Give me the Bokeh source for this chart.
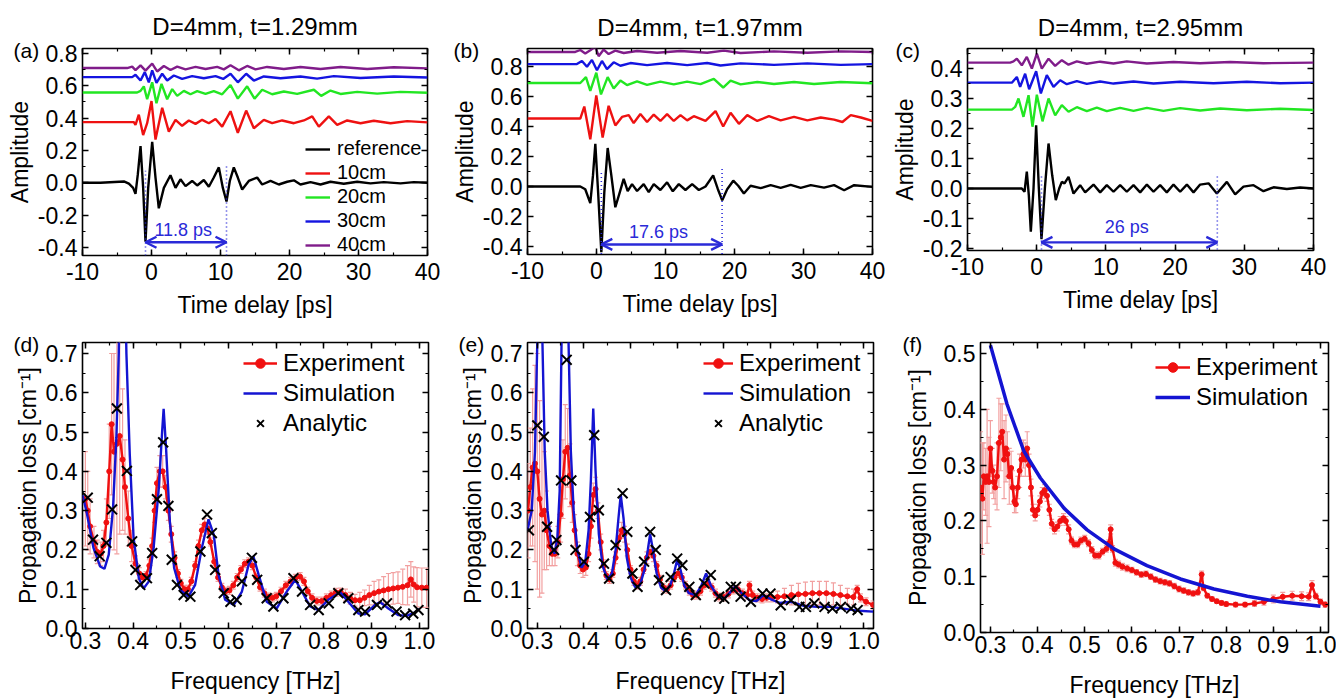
from bokeh.plotting import figure
from bokeh.layouts import row, column
from bokeh.models import (Range1d, SingleIntervalTicker, LinearAxis, NumeralTickFormatter, Title,
                          Legend, LegendItem, Label, Arrow, OpenHead, ColumnDataSource)
from bokeh.embed import file_html
from bokeh.resources import INLINE

FONT = "Liberation Sans"
COL_REF = "#000000"
COL_10 = "#ee1111"
COL_20 = "#22e622"
COL_30 = "#1414e0"
COL_40 = "#801c8a"
COL_ANN = "#2a2ad8"
COL_EXP = "#f01010"
COL_ERR = "#f2a0a0"
COL_SIM = "#1414d2"

# ---------------- panel (a): D=4mm, t=1.29mm ----------------
A_REF = [(-10, 0), (-7.4, 0.0), (-4.0, 0.008), (-3.28, -0.006), (-2.66, -0.032), (-2.32, -0.069),
         (-1.98, 0.053), (-1.59, 0.227), (-1.21, -0.032), (-0.87, -0.364), (-0.48, -0.032),
         (0.1, 0.253), (0.58, 0.032), (1.06, -0.158), (1.79, -0.032), (2.75, 0.046), (3.48, -0.032),
         (4.2, 0.021), (4.93, -0.021), (5.89, 0.011), (6.62, -0.017), (7.58, 0.017), (8.31, -0.025),
         (9.03, 0.032), (9.76, 0.095), (10.34, -0.032), (10.87, -0.116), (11.35, 0.011), (11.93, 0.095),
         (12.51, 0.032), (13.14, -0.042), (14.1, 0.011), (15.31, 0.032), (16.04, -0.011), (17.25, 0.011),
         (18.45, -0.011), (19.66, 0.006), (20.63, 0.015), (21.59, -0.011), (23.04, 0.004), (24.49, -0.011),
         (25.94, 0.006), (27.87, -0.006), (29.81, 0.006), (31.74, -0.004), (33.67, 0.004), (36.09, -0.004),
         (38.02, 0.004), (40, 0.0)]
A_10 = [(-10, 0.375), (-2.56, 0.375), (-2.32, 0.358), (-1.84, 0.421), (-1.21, 0.295), (-0.63, 0.368),
        (0.0, 0.505), (0.58, 0.267), (1.55, 0.463), (2.51, 0.316), (3.48, 0.389), (4.44, 0.352),
        (5.41, 0.385), (6.38, 0.364), (7.34, 0.389), (8.31, 0.368), (9.28, 0.394), (10.24, 0.347),
        (11.45, 0.442), (12.51, 0.309), (13.72, 0.446), (14.83, 0.337), (16.28, 0.389), (17.49, 0.368),
        (18.94, 0.385), (20.63, 0.368), (22.08, 0.385), (23.29, 0.41), (24.25, 0.347), (25.7, 0.41),
        (26.91, 0.358), (28.36, 0.385), (30.29, 0.368), (32.22, 0.383), (34.64, 0.368), (37.05, 0.381),
        (40, 0.373)]
A_20 = [(-10, 0.558), (-2.08, 0.558), (-1.59, 0.568), (-1.11, 0.596), (-0.63, 0.516), (0.1, 0.621),
        (0.72, 0.491), (1.45, 0.611), (2.27, 0.516), (3.0, 0.579), (3.72, 0.537), (4.69, 0.568),
        (5.65, 0.547), (6.62, 0.566), (7.83, 0.549), (9.03, 0.566), (10.24, 0.547), (11.45, 0.604),
        (12.51, 0.52), (13.86, 0.596), (14.93, 0.52), (16.04, 0.575), (17.49, 0.547), (19.18, 0.564),
        (21.11, 0.549), (23.53, 0.575), (24.59, 0.537), (25.94, 0.57), (27.39, 0.549), (29.81, 0.562),
        (32.71, 0.551), (36.09, 0.562), (40, 0.556)]
A_30 = [(-10, 0.653), (-2.8, 0.653), (-2.32, 0.667), (-1.59, 0.632), (-0.97, 0.684), (-0.39, 0.621),
        (0.1, 0.695), (0.72, 0.617), (1.55, 0.674), (2.27, 0.632), (3.24, 0.663), (4.44, 0.642),
        (5.89, 0.659), (7.58, 0.646), (9.28, 0.659), (10.39, 0.642), (11.45, 0.674), (12.51, 0.621),
        (13.72, 0.674), (14.83, 0.632), (16.28, 0.657), (18.7, 0.646), (21.59, 0.657), (24.0, 0.644),
        (26.43, 0.659), (30.29, 0.648), (35.12, 0.657), (40, 0.651)]
A_40 = [(-10, 0.709), (-3.53, 0.709), (-2.8, 0.718), (-2.32, 0.696), (-1.59, 0.726), (-0.87, 0.693),
        (0.1, 0.737), (0.82, 0.688), (1.79, 0.722), (2.75, 0.697), (3.72, 0.718), (4.93, 0.701),
        (6.38, 0.716), (7.83, 0.703), (9.52, 0.716), (10.48, 0.701), (11.45, 0.726), (12.66, 0.695),
        (13.86, 0.722), (15.07, 0.701), (16.76, 0.716), (19.18, 0.703), (21.59, 0.716), (24.49, 0.703),
        (27.39, 0.716), (31.26, 0.703), (35.12, 0.714), (40, 0.707)]
A_DELAY = {"t0": -0.87, "t1": 10.87, "top0": 0.074, "top1": 0.105, "arrow_y": -0.368,
           "text": "11.8 ps", "text_t": 4.6, "text_y": -0.293}

# ---------------- panel (b): D=4mm, t=1.97mm ----------------
B_REF = [(-10, 0), (-2.35, 0), (-1.63, -0.018), (-0.9, -0.11), (-0.51, 0.074), (-0.17, 0.285),
         (0.21, -0.018), (0.7, -0.437), (1.13, -0.041), (1.62, 0.257), (2.15, 0.074), (2.73, -0.138),
         (3.36, -0.041), (3.94, 0.051), (4.52, -0.03), (5.15, 0.016), (5.88, -0.03), (6.84, 0.016),
         (7.57, -0.037), (8.3, 0.016), (9.26, -0.023), (10.23, 0.028), (11.06, -0.032), (11.93, 0.016),
         (12.89, -0.023), (13.86, 0.016), (14.83, -0.023), (15.8, 0.0), (16.91, 0.074), (17.59, -0.018),
         (18.22, -0.092), (18.94, -0.018), (19.82, 0.039), (20.54, 0.005), (21.36, -0.046), (22.33, 0.005),
         (23.79, -0.011), (25.24, 0.009), (26.69, -0.009), (28.14, 0.011), (29.59, -0.009), (31.05, 0.009),
         (32.98, -0.007), (34.43, 0.009), (35.89, -0.025), (37.34, 0.009), (40, -0.002)]
B_10 = [(-10, 0.453), (-2.35, 0.453), (-1.77, 0.533), (-0.9, 0.315), (-0.03, 0.607), (0.89, 0.326),
        (1.76, 0.538), (2.73, 0.407), (3.7, 0.464), (4.67, 0.476), (5.39, 0.423), (6.36, 0.483),
        (7.33, 0.43), (8.3, 0.48), (9.26, 0.437), (10.23, 0.483), (11.2, 0.437), (12.17, 0.476),
        (13.14, 0.441), (14.1, 0.469), (15.8, 0.437), (17.25, 0.503), (18.36, 0.4), (19.43, 0.492),
        (20.64, 0.418), (21.85, 0.476), (23.3, 0.437), (24.99, 0.469), (26.69, 0.441), (28.63, 0.464),
        (30.56, 0.441), (32.5, 0.46), (34.43, 0.446), (35.64, 0.43), (36.85, 0.476), (38.31, 0.46),
        (40, 0.437)]
B_20 = [(-10, 0.69), (-2.35, 0.69), (-1.53, 0.729), (-0.9, 0.637), (-0.03, 0.759), (0.65, 0.614),
        (1.62, 0.729), (2.49, 0.653), (3.46, 0.706), (4.42, 0.676), (5.88, 0.701), (7.33, 0.678),
        (9.26, 0.699), (11.2, 0.681), (13.14, 0.699), (15.07, 0.683), (17.0, 0.717), (18.36, 0.66),
        (19.43, 0.706), (20.88, 0.681), (23.3, 0.697), (25.72, 0.683), (28.63, 0.697), (31.53, 0.683),
        (35.4, 0.697), (40, 0.688)]
B_30 = [(-10, 0.816), (-2.84, 0.816), (-2.11, 0.837), (-1.38, 0.798), (-0.66, 0.844), (0.07, 0.775),
        (0.79, 0.837), (1.52, 0.782), (2.49, 0.828), (3.46, 0.805), (4.91, 0.823), (7.33, 0.809),
        (10.23, 0.823), (13.14, 0.809), (16.04, 0.823), (17.98, 0.807), (20.88, 0.821), (25.72, 0.811),
        (30.56, 0.821), (35.4, 0.811), (40, 0.816)]
B_40 = [(-10, 0.897), (-3.08, 0.897), (-2.35, 0.91), (-1.63, 0.887), (-0.9, 0.908), (-0.17, 0.933),
        (0.31, 0.869), (1.04, 0.913), (1.76, 0.883), (2.73, 0.906), (3.94, 0.89), (5.88, 0.903),
        (8.78, 0.892), (12.17, 0.903), (16.04, 0.892), (18.46, 0.906), (20.88, 0.89), (25.72, 0.901),
        (30.56, 0.892), (35.4, 0.901), (40, 0.897)]
B_DELAY = {"t0": 0.7, "t1": 18.2, "top0": 0.108, "top1": 0.12, "arrow_y": -0.386,
           "text": "17.6 ps", "text_t": 9.0, "text_y": -0.306}

# ---------------- panel (c): D=4mm, t=2.95mm ----------------
C_REF = [(-10, 0), (-2.15, 0), (-1.76, -0.011), (-1.43, 0.056), (-1.14, -0.022), (-0.85, -0.144),
         (-0.46, 0.0), (-0.08, 0.211), (0.31, 0.0), (0.69, -0.169), (1.18, 0.0), (1.71, 0.15),
         (2.24, 0.044), (2.76, -0.039), (3.25, 0.0), (3.63, 0.022), (4.02, 0.017), (4.6, 0.039),
         (5.32, -0.017), (6.28, 0.011), (7.0, -0.013), (8.21, 0.013), (9.17, -0.013), (10.13, 0.011),
         (11.1, -0.011), (12.06, 0.011), (13.02, -0.011), (13.99, 0.011), (14.95, -0.013), (15.92, 0.013),
         (16.88, -0.011), (17.84, 0.011), (18.8, -0.013), (19.77, 0.013), (20.73, -0.011), (21.7, 0.013),
         (22.66, -0.013), (23.62, 0.013), (24.83, 0.017), (26.03, -0.017), (27.48, 0.022), (28.68, -0.02),
         (29.88, 0.006), (31.33, 0.011), (32.77, -0.009), (34.22, 0.004), (36.15, -0.002), (38.07, 0.003),
         (40, 0.0)]
C_20 = [(-10, 0.263), (-3.59, 0.263), (-3.11, 0.272), (-2.63, 0.3), (-1.91, 0.239), (-1.18, 0.311),
        (-0.61, 0.206), (0.02, 0.313), (0.84, 0.224), (1.71, 0.3), (2.67, 0.244), (3.63, 0.278),
        (4.6, 0.256), (5.8, 0.271), (7.24, 0.258), (8.69, 0.27), (10.13, 0.258), (12.06, 0.269),
        (13.99, 0.259), (15.92, 0.269), (18.32, 0.259), (20.73, 0.268), (23.62, 0.26), (26.51, 0.267),
        (30.37, 0.261), (35.18, 0.266), (40, 0.262)]
C_30 = [(-10, 0.353), (-3.59, 0.353), (-2.87, 0.372), (-2.39, 0.339), (-1.67, 0.383), (-1.09, 0.331),
        (-0.08, 0.391), (0.6, 0.317), (1.46, 0.378), (2.43, 0.339), (3.39, 0.361), (4.35, 0.348),
        (5.8, 0.358), (7.24, 0.349), (9.17, 0.357), (11.1, 0.35), (13.99, 0.357), (16.88, 0.35),
        (20.73, 0.356), (25.55, 0.351), (30.37, 0.356), (35.18, 0.351), (40, 0.353)]
C_40 = [(-10, 0.42), (-3.83, 0.42), (-3.35, 0.424), (-2.87, 0.433), (-2.15, 0.411), (-1.43, 0.439),
        (-0.7, 0.4), (0.02, 0.45), (0.74, 0.4), (1.71, 0.433), (2.67, 0.409), (3.63, 0.428),
        (4.6, 0.413), (5.8, 0.424), (7.24, 0.416), (9.17, 0.423), (11.1, 0.417), (13.02, 0.424),
        (15.92, 0.417), (19.77, 0.422), (23.62, 0.418), (27.96, 0.422), (32.77, 0.418), (40, 0.42)]
C_DELAY = {"t0": 0.69, "t1": 26.1, "top0": 0.044, "top1": 0.044, "arrow_y": -0.18,
           "text": "26 ps", "text_t": 13.0, "text_y": -0.13}

# ---------------- panel (d) ----------------
D_EXP = [(0.3, 0.33, 0.12), (0.305, 0.30, 0.10), (0.31, 0.26, 0.07), (0.318, 0.22, 0.04), (0.325, 0.195, 0.03),
         (0.332, 0.19, 0.03), (0.338, 0.21, 0.04), (0.344, 0.27, 0.06), (0.35, 0.40, 0.12), (0.355, 0.52, 0.18),
         (0.36, 0.45, 0.25), (0.366, 0.47, 0.28), (0.372, 0.49, 0.25), (0.378, 0.43, 0.18), (0.383, 0.36, 0.12),
         (0.39, 0.28, 0.07), (0.397, 0.21, 0.04), (0.405, 0.165, 0.02), (0.413, 0.14, 0.015), (0.42, 0.13, 0.01),
         (0.427, 0.135, 0.01), (0.434, 0.16, 0.015), (0.44, 0.21, 0.02), (0.445, 0.30, 0.03), (0.45, 0.37, 0.04),
         (0.456, 0.40, 0.04), (0.462, 0.40, 0.04), (0.468, 0.36, 0.03), (0.474, 0.30, 0.025), (0.48, 0.24, 0.02),
         (0.487, 0.18, 0.015), (0.494, 0.14, 0.01), (0.5, 0.115, 0.01), (0.508, 0.1, 0.01), (0.515, 0.1, 0.01),
         (0.522, 0.12, 0.01), (0.53, 0.16, 0.01), (0.537, 0.21, 0.015), (0.544, 0.25, 0.015), (0.55, 0.265, 0.015),
         (0.556, 0.255, 0.015), (0.562, 0.22, 0.01), (0.57, 0.17, 0.01), (0.578, 0.13, 0.01), (0.586, 0.105, 0.01),
         (0.594, 0.095, 0.01), (0.602, 0.097, 0.01), (0.61, 0.11, 0.01), (0.618, 0.13, 0.01), (0.626, 0.15, 0.01),
         (0.634, 0.165, 0.01), (0.642, 0.17, 0.01), (0.65, 0.16, 0.01), (0.658, 0.13, 0.01), (0.666, 0.105, 0.01),
         (0.675, 0.09, 0.01), (0.684, 0.08, 0.01), (0.692, 0.078, 0.01), (0.70, 0.082, 0.01), (0.71, 0.095, 0.01),
         (0.72, 0.11, 0.01), (0.73, 0.12, 0.01), (0.74, 0.128, 0.01), (0.75, 0.132, 0.01), (0.758, 0.12, 0.01),
         (0.766, 0.095, 0.01), (0.775, 0.078, 0.01), (0.785, 0.07, 0.01), (0.795, 0.07, 0.01), (0.805, 0.078, 0.01),
         (0.815, 0.085, 0.01), (0.825, 0.092, 0.01), (0.835, 0.093, 0.01), (0.845, 0.085, 0.015), (0.855, 0.077, 0.015),
         (0.865, 0.072, 0.015), (0.875, 0.072, 0.02), (0.885, 0.078, 0.02), (0.895, 0.085, 0.025), (0.905, 0.09, 0.03),
         (0.915, 0.094, 0.03), (0.925, 0.097, 0.035), (0.935, 0.1, 0.04), (0.945, 0.102, 0.04), (0.955, 0.104, 0.04),
         (0.965, 0.106, 0.045), (0.975, 0.11, 0.05), (0.982, 0.125, 0.045), (0.988, 0.112, 0.045), (0.995, 0.105, 0.05),
         (1.005, 0.104, 0.05), (1.015, 0.104, 0.05)]
D_SIM = [(0.294, 0.34), (0.302, 0.30), (0.317, 0.205), (0.331, 0.158), (0.34, 0.152), (0.349, 0.188), (0.358, 0.307),
         (0.365, 0.487), (0.37, 0.70), (0.377, 1.3), (0.386, 0.70), (0.393, 0.444), (0.401, 0.231), (0.412, 0.128),
         (0.422, 0.102), (0.433, 0.12), (0.443, 0.205), (0.454, 0.359), (0.461, 0.504), (0.464, 0.559), (0.469, 0.461),
         (0.477, 0.273), (0.486, 0.154), (0.499, 0.098), (0.516, 0.081), (0.53, 0.111), (0.544, 0.205), (0.558, 0.278),
         (0.569, 0.239), (0.579, 0.137), (0.593, 0.073), (0.611, 0.06), (0.628, 0.094), (0.642, 0.162), (0.652, 0.184),
         (0.663, 0.137), (0.68, 0.068), (0.701, 0.051), (0.722, 0.094), (0.74, 0.124), (0.754, 0.094), (0.771, 0.056),
         (0.788, 0.047), (0.809, 0.073), (0.834, 0.092), (0.851, 0.068), (0.872, 0.038), (0.886, 0.036), (0.907, 0.06),
         (0.918, 0.067), (0.935, 0.051), (0.956, 0.034), (0.973, 0.032), (0.991, 0.041), (1.0, 0.05)]
D_ANA = [(0.305, 0.333), (0.316, 0.226), (0.33, 0.184), (0.344, 0.218), (0.356, 0.303), (0.366, 0.56), (0.387, 0.401),
         (0.398, 0.222), (0.405, 0.149), (0.415, 0.111), (0.429, 0.128), (0.44, 0.192), (0.45, 0.329), (0.463, 0.474),
         (0.474, 0.312), (0.481, 0.175), (0.492, 0.111), (0.506, 0.085), (0.52, 0.081), (0.541, 0.196), (0.555, 0.29),
         (0.565, 0.243), (0.572, 0.149), (0.59, 0.09), (0.604, 0.068), (0.617, 0.073), (0.628, 0.12), (0.649, 0.18),
         (0.66, 0.124), (0.68, 0.077), (0.694, 0.056), (0.715, 0.077), (0.736, 0.128), (0.754, 0.094), (0.771, 0.06),
         (0.789, 0.047), (0.81, 0.064), (0.83, 0.09), (0.851, 0.077), (0.872, 0.047), (0.886, 0.043), (0.911, 0.06),
         (0.932, 0.064), (0.952, 0.043), (0.97, 0.034), (0.987, 0.038), (0.998, 0.047)]

# ---------------- panel (e) ----------------
E_EXP = [(0.28, 0.30, 0.12), (0.285, 0.36, 0.15), (0.29, 0.41, 0.2), (0.295, 0.42, 0.25), (0.30, 0.40, 0.3),
         (0.305, 0.33, 0.25), (0.31, 0.29, 0.2), (0.315, 0.30, 0.15), (0.32, 0.25, 0.1), (0.326, 0.21, 0.05),
         (0.332, 0.19, 0.03), (0.338, 0.19, 0.03), (0.344, 0.22, 0.04), (0.35, 0.29, 0.07), (0.355, 0.38, 0.1),
         (0.36, 0.45, 0.12), (0.365, 0.46, 0.1), (0.37, 0.39, 0.08), (0.375, 0.32, 0.05), (0.38, 0.25, 0.04),
         (0.386, 0.19, 0.03), (0.392, 0.16, 0.02), (0.398, 0.15, 0.02), (0.404, 0.155, 0.02), (0.41, 0.19, 0.02),
         (0.415, 0.26, 0.03), (0.42, 0.34, 0.03), (0.425, 0.355, 0.03), (0.43, 0.3, 0.02), (0.436, 0.22, 0.02),
         (0.442, 0.16, 0.015), (0.448, 0.135, 0.01), (0.455, 0.125, 0.01), (0.462, 0.14, 0.01), (0.468, 0.18, 0.015),
         (0.475, 0.23, 0.02), (0.481, 0.25, 0.02), (0.487, 0.24, 0.02), (0.493, 0.2, 0.015), (0.5, 0.15, 0.01),
         (0.507, 0.12, 0.01), (0.514, 0.11, 0.01), (0.521, 0.12, 0.01), (0.528, 0.15, 0.01), (0.535, 0.18, 0.015),
         (0.542, 0.195, 0.015), (0.549, 0.185, 0.015), (0.556, 0.16, 0.01), (0.563, 0.125, 0.01), (0.57, 0.105, 0.01),
         (0.578, 0.1, 0.01), (0.586, 0.11, 0.01), (0.594, 0.13, 0.01), (0.602, 0.14, 0.01), (0.61, 0.13, 0.01),
         (0.618, 0.11, 0.01), (0.626, 0.095, 0.01), (0.634, 0.085, 0.01), (0.642, 0.085, 0.01), (0.65, 0.095, 0.01),
         (0.658, 0.11, 0.01), (0.666, 0.115, 0.01), (0.674, 0.105, 0.01), (0.682, 0.09, 0.01), (0.69, 0.08, 0.01),
         (0.70, 0.08, 0.01), (0.71, 0.088, 0.01), (0.72, 0.098, 0.01), (0.73, 0.1, 0.01), (0.74, 0.09, 0.01),
         (0.75, 0.085, 0.01), (0.755, 0.11, 0.01), (0.762, 0.085, 0.01), (0.772, 0.078, 0.01), (0.782, 0.075, 0.01),
         (0.792, 0.078, 0.01), (0.802, 0.08, 0.012), (0.815, 0.08, 0.015), (0.83, 0.082, 0.02), (0.845, 0.085, 0.025),
         (0.86, 0.087, 0.028), (0.875, 0.088, 0.03), (0.89, 0.09, 0.03), (0.905, 0.09, 0.03), (0.92, 0.09, 0.03),
         (0.935, 0.088, 0.028), (0.95, 0.085, 0.025), (0.965, 0.082, 0.02), (0.978, 0.08, 0.02), (0.986, 0.1, 0.01),
         (0.993, 0.078, 0.01), (1.005, 0.068, 0.01), (1.02, 0.06, 0.01)]
E_SIM = [(0.279, 0.25), (0.288, 0.3), (0.295, 0.45), (0.300, 0.73), (0.305, 1.3), (0.311, 0.73), (0.316, 0.45),
         (0.322, 0.3), (0.33, 0.21), (0.337, 0.19), (0.343, 0.23), (0.348, 0.35), (0.352, 0.73), (0.359, 1.3),
         (0.367, 0.73), (0.372, 0.45), (0.378, 0.3), (0.386, 0.2), (0.395, 0.155), (0.403, 0.17), (0.41, 0.25),
         (0.415, 0.38), (0.42, 0.56), (0.425, 0.40), (0.432, 0.24), (0.44, 0.16), (0.45, 0.125), (0.46, 0.14),
         (0.468, 0.2), (0.474, 0.28), (0.479, 0.34), (0.485, 0.28), (0.492, 0.18), (0.50, 0.13), (0.51, 0.105),
         (0.52, 0.11), (0.53, 0.15), (0.537, 0.2), (0.542, 0.24), (0.548, 0.2), (0.556, 0.14), (0.565, 0.105),
         (0.575, 0.095), (0.585, 0.11), (0.593, 0.14), (0.6, 0.175), (0.607, 0.15), (0.615, 0.11), (0.625, 0.09),
         (0.64, 0.085), (0.652, 0.11), (0.662, 0.14), (0.672, 0.11), (0.685, 0.085), (0.70, 0.075), (0.712, 0.09),
         (0.725, 0.108), (0.738, 0.09), (0.755, 0.072), (0.77, 0.07), (0.785, 0.085), (0.80, 0.075), (0.82, 0.065),
         (0.845, 0.068), (0.87, 0.058), (0.9, 0.055), (0.93, 0.055), (0.96, 0.05), (0.99, 0.045), (1.02, 0.043)]
E_ANA = [(0.282, 0.25), (0.3, 0.517), (0.314, 0.488), (0.321, 0.259), (0.336, 0.2), (0.341, 0.225), (0.351, 0.377),
         (0.363, 0.684), (0.373, 0.377), (0.382, 0.2), (0.4, 0.17), (0.413, 0.284), (0.422, 0.492), (0.432, 0.301),
         (0.443, 0.165), (0.454, 0.127), (0.468, 0.212), (0.483, 0.344), (0.493, 0.246), (0.504, 0.14), (0.515, 0.106),
         (0.529, 0.17), (0.542, 0.246), (0.554, 0.2), (0.561, 0.123), (0.576, 0.098), (0.586, 0.131), (0.6, 0.178),
         (0.611, 0.161), (0.626, 0.106), (0.64, 0.085), (0.658, 0.115), (0.672, 0.136), (0.69, 0.081), (0.701, 0.076),
         (0.715, 0.106), (0.726, 0.106), (0.736, 0.081), (0.758, 0.068), (0.783, 0.089), (0.8, 0.089), (0.822, 0.059),
         (0.844, 0.072), (0.862, 0.055), (0.876, 0.055), (0.894, 0.064), (0.916, 0.055), (0.933, 0.051), (0.951, 0.055),
         (0.973, 0.051), (0.987, 0.047)]

# ---------------- panel (f) ----------------
F_EXP = [(0.279, 0.26, 0.1), (0.283, 0.24, 0.1), (0.286, 0.28, 0.06), (0.29, 0.27, 0.06), (0.293, 0.28, 0.12),
         (0.297, 0.27, 0.08), (0.30, 0.33, 0.05), (0.304, 0.29, 0.04), (0.307, 0.27, 0.03), (0.31, 0.26, 0.03),
         (0.314, 0.28, 0.06), (0.318, 0.34, 0.08), (0.322, 0.35, 0.06), (0.325, 0.36, 0.05), (0.329, 0.31, 0.07),
         (0.333, 0.33, 0.06), (0.336, 0.32, 0.04), (0.34, 0.28, 0.05), (0.344, 0.295, 0.03), (0.347, 0.26, 0.03),
         (0.351, 0.235, 0.02), (0.354, 0.23, 0.015), (0.358, 0.26, 0.02), (0.362, 0.29, 0.03), (0.366, 0.31, 0.03),
         (0.37, 0.32, 0.025), (0.374, 0.31, 0.03), (0.378, 0.33, 0.03), (0.382, 0.3, 0.02), (0.386, 0.26, 0.015),
         (0.39, 0.22, 0.01), (0.395, 0.21, 0.01), (0.4, 0.22, 0.01), (0.405, 0.235, 0.01), (0.41, 0.25, 0.01),
         (0.415, 0.255, 0.01), (0.42, 0.245, 0.01), (0.425, 0.22, 0.01), (0.43, 0.195, 0.008), (0.436, 0.185, 0.008),
         (0.442, 0.19, 0.008), (0.448, 0.2, 0.008), (0.455, 0.205, 0.008), (0.46, 0.2, 0.008), (0.466, 0.185, 0.008),
         (0.472, 0.165, 0.006), (0.478, 0.158, 0.006), (0.485, 0.158, 0.006), (0.492, 0.165, 0.006), (0.5, 0.168, 0.006),
         (0.508, 0.16, 0.006), (0.515, 0.148, 0.006), (0.522, 0.138, 0.006), (0.53, 0.138, 0.006), (0.538, 0.145, 0.006),
         (0.546, 0.15, 0.006), (0.551, 0.16, 0.006), (0.555, 0.185, 0.008), (0.559, 0.15, 0.006), (0.565, 0.125, 0.006),
         (0.572, 0.122, 0.006), (0.58, 0.118, 0.006), (0.59, 0.115, 0.006), (0.6, 0.112, 0.005), (0.61, 0.108, 0.005),
         (0.62, 0.104, 0.005), (0.63, 0.105, 0.005), (0.64, 0.1, 0.005), (0.65, 0.095, 0.005), (0.66, 0.092, 0.005),
         (0.67, 0.09, 0.005), (0.68, 0.088, 0.005), (0.69, 0.083, 0.005), (0.70, 0.078, 0.005), (0.71, 0.075, 0.005),
         (0.72, 0.072, 0.005), (0.73, 0.07, 0.005), (0.74, 0.072, 0.005), (0.748, 0.104, 0.006), (0.752, 0.08, 0.005),
         (0.76, 0.066, 0.004), (0.77, 0.06, 0.004), (0.78, 0.056, 0.004), (0.79, 0.053, 0.004), (0.80, 0.051, 0.004),
         (0.82, 0.05, 0.004), (0.84, 0.05, 0.004), (0.86, 0.052, 0.005), (0.88, 0.055, 0.006), (0.90, 0.06, 0.007),
         (0.92, 0.064, 0.008), (0.94, 0.066, 0.008), (0.96, 0.065, 0.008), (0.975, 0.064, 0.007), (0.982, 0.085, 0.008),
         (0.99, 0.065, 0.005), (1.0, 0.055, 0.005), (1.01, 0.05, 0.005)]
F_SIM = [(0.3, 0.515), (0.335, 0.41), (0.371, 0.325), (0.406, 0.277), (0.456, 0.223), (0.505, 0.184), (0.562, 0.15),
         (0.632, 0.12), (0.703, 0.096), (0.774, 0.078), (0.845, 0.065), (0.915, 0.055), (1.0, 0.047)]

TOP_TITLES = ["D=4mm, t=1.29mm", "D=4mm, t=1.97mm", "D=4mm, t=2.95mm"]
TRACE_LABELS = ["reference", "10cm", "20cm", "30cm", "40cm"]


def xs(pairs):
    return [q[0] for q in pairs]


def ys(pairs):
    return [q[1] for q in pairs]


def base_fig(frame, borders, xr, yr, xint, yint, xfmt, title=None, title_standoff=17):
    fw, fh = frame
    left, right, top, bottom = borders
    p = figure(frame_width=fw, frame_height=fh, x_range=Range1d(*xr), y_range=Range1d(*yr),
               output_backend="svg", toolbar_location=None, title=title,
               min_border_left=left, min_border_right=right, min_border_top=top,
               min_border_bottom=bottom)
    p.background_fill_color = "white"
    p.border_fill_color = "white"
    p.xgrid.visible = False
    p.ygrid.visible = False
    p.outline_line_color = "black"
    p.outline_line_width = 1.6
    p.outline_line_alpha = 1.0
    xt = SingleIntervalTicker(interval=xint, num_minor_ticks=2)
    yt = SingleIntervalTicker(interval=yint, num_minor_ticks=2)
    bx = p.below[0]
    ly = p.left[0]
    bx.ticker = xt
    ly.ticker = yt
    bx.formatter = NumeralTickFormatter(format=xfmt)
    ly.formatter = NumeralTickFormatter(format="0.0")
    for ax in (bx, ly):
        ax.major_label_text_font = FONT
        ax.major_label_text_font_size = "23px"
        ax.major_label_text_color = "black"
        ax.axis_label_text_font = FONT
        ax.axis_label_text_font_size = "23px"
        ax.axis_label_text_font_style = "normal"
        ax.axis_label_text_color = "black"
    for loc, tk in (("above", xt), ("right", yt)):
        p.add_layout(LinearAxis(ticker=tk, major_label_text_font_size="0px",
                                major_label_text_color=None, major_label_standoff=0), loc)
    for ax in p.axis:
        ax.axis_line_color = None
        ax.major_tick_in = 6
        ax.major_tick_out = 0
        ax.minor_tick_in = 3
        ax.minor_tick_out = 0
        ax.major_tick_line_color = "black"
        ax.minor_tick_line_color = "black"
        ax.major_tick_line_width = 1.5
        ax.minor_tick_line_width = 1.2
    if title:
        p.title.text_font = FONT
        p.title.text_font_size = "24px"
        p.title.text_font_style = "normal"
        p.title.text_color = "black"
        p.title.align = "center"
        p.title.standoff = title_standoff
    return p


def panel_label(p, text, offset):
    # a zero-height title next to the frame, shifted left of it so it sits beside the top tick label
    p.add_layout(Title(text=text, align="left", offset=offset, standoff=-26, vertical_align="bottom",
                       text_font=FONT, text_font_size="21px", text_font_style="normal",
                       text_color="black"), "above")


def delay_marks(p, d, ybottom):
    p.segment(x0=[d["t0"], d["t1"]], y0=[ybottom, ybottom], x1=[d["t0"], d["t1"]],
              y1=[d["top0"], d["top1"]], line_color=COL_ANN, line_width=1.6, line_dash="1 3")
    p.add_layout(Arrow(start=OpenHead(size=11, line_color=COL_ANN, line_width=2.4),
                       end=OpenHead(size=11, line_color=COL_ANN, line_width=2.4),
                       x_start=d["t0"], y_start=d["arrow_y"], x_end=d["t1"], y_end=d["arrow_y"],
                       line_color=COL_ANN, line_width=2.4))
    p.add_layout(Label(x=d["text_t"], y=d["text_y"], text=d["text"], text_align="center",
                       text_baseline="middle", text_font=FONT, text_font_size="18px",
                       text_color=COL_ANN))


def time_panel(traces, colors, title, frame, borders, yr, yint, label, loff, delay, tstand):
    p = base_fig(frame, borders, (-10, 40), yr, 10, yint, "0", title=title, title_standoff=tstand)
    p.below[0].axis_label = "Time delay [ps]"
    p.below[0].major_label_standoff = 7
    p.below[0].axis_label_standoff = 9
    p.left[0].axis_label = "Amplitude"
    p.left[0].major_label_standoff = 5
    p.left[0].axis_label_standoff = 2
    rends = []
    for tr, col in zip(traces, colors):
        rends.append(p.line(xs(tr), ys(tr), line_color=col, line_width=2.4))
    delay_marks(p, delay, yr[0] - 0.05)
    panel_label(p, label, loff)
    return p, rends


# --------- top row ----------
pa, ra = time_panel([A_REF, A_10, A_20, A_30, A_40], [COL_REF, COL_10, COL_20, COL_30, COL_40],
                    TOP_TITLES[0], (345, 207), (82, 21, 48, 73), (-0.45, 0.83), 0.2, "(a)", -69,
                    A_DELAY, 17)
leg_a = Legend(items=[LegendItem(label=lab, renderers=[r]) for lab, r in zip(TRACE_LABELS, ra)],
               location=(223, -1), background_fill_alpha=0, border_line_alpha=0, padding=0, margin=0,
               spacing=1, glyph_width=25, glyph_height=20, label_height=20, label_standoff=7,
               label_text_font=FONT, label_text_font_size="20px", label_text_color="black")
pa.add_layout(leg_a)

pb, rb = time_panel([B_REF, B_10, B_20, B_30, B_40], [COL_REF, COL_10, COL_20, COL_30, COL_40],
                    TOP_TITLES[1], (345, 206), (79, 16, 47, 75), (-0.453, 0.92), 0.2, "(b)", -74,
                    B_DELAY, 16)
pc, rc = time_panel([C_REF, C_20, C_30, C_40], [COL_REF, COL_20, COL_30, COL_40],
                    TOP_TITLES[2], (346, 202), (79, 23, 47, 79), (-0.207, 0.467), 0.1, "(c)", -72,
                    C_DELAY, 16)


# --------- bottom row ----------
def loss_panel(exp, sim, ana, frame, borders, xr, yr, label, loff, leg_loc, leg_glyph_w, sim_width,
               ylab_stand):
    p = base_fig(frame, borders, xr, yr, 0.1, 0.1, "0.0")
    p.below[0].axis_label = "Frequency [THz]"
    p.below[0].major_label_standoff = 3
    p.below[0].axis_label_standoff = 16
    p.left[0].axis_label = "Propagation loss [cm\u207b\u00b9]"
    p.left[0].major_label_standoff = 5
    p.left[0].axis_label_standoff = ylab_stand
    fx = [q[0] for q in exp]
    fy = [q[1] for q in exp]
    up = [q[1] + q[2] for q in exp]
    lo = [q[1] - q[2] for q in exp]
    src = ColumnDataSource(dict(f=fx, y=fy, up=up, lo=lo))
    p.segment(x0="f", y0="lo", x1="f", y1="up", source=src, line_color=COL_ERR, line_width=1.2)
    p.scatter("f", "up", source=src, marker="dash", size=5, line_color=COL_ERR, line_width=1.2)
    p.scatter("f", "lo", source=src, marker="dash", size=5, line_color=COL_ERR, line_width=1.2)
    r_el = p.line("f", "y", source=src, line_color=COL_EXP, line_width=2.4)
    r_ec = p.scatter("f", "y", source=src, marker="circle", size=5, line_color=COL_EXP,
                     fill_color=COL_EXP, line_width=1)
    r_s = p.line(xs(sim), ys(sim), line_color=COL_SIM, line_width=sim_width)
    items = [LegendItem(label="Experiment", renderers=[r_el, r_ec]),
             LegendItem(label="Simulation", renderers=[r_s])]
    if ana:
        r_a = p.scatter(xs(ana), ys(ana), marker="x", size=14, line_color="black", line_width=2)
        items.append(LegendItem(label="Analytic", renderers=[r_a]))
    leg = Legend(items=items, location=leg_loc, background_fill_alpha=0, border_line_alpha=0,
                 padding=0, margin=0, spacing=2, glyph_width=leg_glyph_w, glyph_height=24,
                 label_height=24, label_standoff=6, label_text_font=FONT,
                 label_text_font_size="24px", label_text_color="black")
    p.add_layout(leg)
    panel_label(p, label, loff)
    return p


pd_ = loss_panel(D_EXP, D_SIM, D_ANA, (346, 286), (82, 20, 14, 70), (0.294, 1.019), (0.0, 0.728),
                 "(d)", -69, (161, 191), 34, 2.4, 2)
pe = loss_panel(E_EXP, E_SIM, E_ANA, (346, 286), (79, 15, 14, 70), (0.279, 1.021), (0.0, 0.728),
                "(e)", -69, (176, 191), 30, 2.4, 2)
pf = loss_panel(F_EXP, F_SIM, None, (348, 290), (92, 8, 14, 66), (0.279, 1.017), (0.0, 0.52),
                "(f)", -78, (175, 221), 35, 3.5, 10)

layout = column(row(pa, pb, pc), row(pd_, pe, pf))
open("out.html", "w").write(file_html(layout, INLINE))
